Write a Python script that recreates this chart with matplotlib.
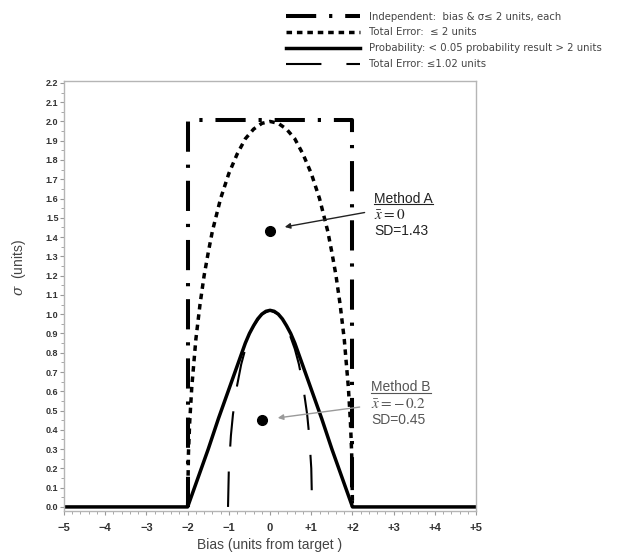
import matplotlib
matplotlib.use('Agg')
import matplotlib.pyplot as plt
from matplotlib.lines import Line2D

plt.rcParams['font.family'] = ['Liberation Sans', 'DejaVu Sans']
plt.rcParams['mathtext.fontset'] = 'stix'

# independent limits: bias and sigma <= 2
indep_bias = [-2.0, -2.0, 2.0, 2.0]
indep_sigma = [0.0, 2.01, 2.01, 0.0]

# total error <= 2 units
te2_bias = [-2.0, -1.98, -1.95, -1.9, -1.8, -1.7, -1.6, -1.5, -1.4, -1.2, -1.0, -0.8, -0.6, -0.4, -0.2, 0.0,
            0.2, 0.4, 0.6, 0.8, 1.0, 1.2, 1.4, 1.5, 1.6, 1.7, 1.8, 1.9, 1.95, 1.98, 2.0]
te2_sigma = [0.0, 0.28, 0.44, 0.62, 0.87, 1.05, 1.2, 1.32, 1.43, 1.6, 1.73, 1.83, 1.91, 1.96, 1.99, 2.0,
             1.99, 1.96, 1.91, 1.83, 1.73, 1.6, 1.43, 1.32, 1.2, 1.05, 0.87, 0.62, 0.44, 0.28, 0.0]

# probability < 0.05 that a result is > 2 units off
prob_bias = [-5.0, -2.0, -1.75, -1.5, -1.25, -1.0, -0.75, -0.6, -0.5, -0.4, -0.3, -0.2, -0.1, 0.0,
             0.1, 0.2, 0.3, 0.4, 0.5, 0.6, 0.75, 1.0, 1.25, 1.5, 1.75, 2.0, 5.0]
prob_sigma = [0.0, 0.0, 0.15, 0.30, 0.46, 0.61, 0.76, 0.85, 0.90, 0.94, 0.975, 1.0, 1.015, 1.02,
              1.015, 1.0, 0.975, 0.94, 0.90, 0.85, 0.76, 0.61, 0.46, 0.30, 0.15, 0.0, 0.0]

# total error <= 1.02 units
te1_bias = [-1.02, -1.0, -0.95, -0.9, -0.8, -0.7, -0.6, -0.4, -0.2, 0.0, 0.2, 0.4, 0.6, 0.7, 0.8, 0.9, 0.95, 1.0, 1.02]
te1_sigma = [0.0, 0.2, 0.37, 0.48, 0.63, 0.74, 0.82, 0.94, 1.0, 1.02, 1.0, 0.94, 0.82, 0.74, 0.63, 0.48, 0.37, 0.2, 0.0]

methods = ['Method A', 'Method B']
method_mean = [0.0, -0.2]
method_sd = [1.43, 0.45]
mean_labels = [r'$\bar{x}=0$', r'$\bar{x}=-\,0.2$']

xticks = [-5, -4, -3, -2, -1, 0, 1, 2, 3, 4, 5]
xtick_labels = ['\u22125', '\u22124', '\u22123', '\u22122', '\u22121', '0', '+1', '+2', '+3', '+4', '+5']

fig = plt.figure(figsize=(6.17, 5.53), dpi=100)
ax = fig.add_axes([0.1037, 0.076, 0.668, 0.7776])

ax.plot(indep_bias, indep_sigma, color='black', lw=2.9, dashes=(7.5, 3.2, 0.8, 3.2),
        label='Independent:  bias & \u03c3\u2264 2 units, each')
ax.plot(te2_bias, te2_sigma, color='black', lw=2.5, dashes=(1.6, 1.4),
        label='Total Error:  \u2264 2 units')
ax.plot(prob_bias, prob_sigma, color='black', lw=2.5,
        label='Probability: < 0.05 probability result > 2 units')
ax.plot(te1_bias, te1_sigma, color='black', lw=1.5, dashes=(17, 12),
        label='Total Error: \u22641.02 units')

ax.plot(method_mean, method_sd, 'o', color='black', ms=7, zorder=5)

text_x = [2.53, 2.46]
arrow_from = [(2.36, 1.53), (2.24, 0.52)]
arrow_to = [(0.29, 1.45), (0.12, 0.46)]
colors = ['#222222', '#555555']
arrow_colors = ['#222222', '#9a9a9a']
heads = []
for i in range(2):
    y0 = method_sd[i]
    t = ax.text(text_x[i], y0 + 0.17, methods[i], fontsize=10, color=colors[i], va='center')
    heads.append(t)
    ax.text(text_x[i], y0 + 0.085, mean_labels[i], fontsize=11, color=colors[i], va='center')
    ax.text(text_x[i], y0 + 0.0, 'SD=%.2f' % method_sd[i], fontsize=10, color=colors[i], va='center')
    ax.annotate('', xy=arrow_to[i], xytext=arrow_from[i],
                arrowprops=dict(arrowstyle='-|>', color=arrow_colors[i], lw=1.0, mutation_scale=8))

ax.set_xlim(-5, 5)
ax.set_ylim(-0.021, 2.21)
ax.set_xticks(xticks)
ax.set_xticklabels(xtick_labels)
ax.set_yticks([i / 10 for i in range(23)])
ax.set_yticklabels(['%.1f' % (i / 10) for i in range(23)])
ax.set_xticks([i / 5 - 5 for i in range(51)], minor=True)
ax.set_yticks([i / 20 for i in range(45)], minor=True)
ax.tick_params(which='both', direction='out', color='#999999')
ax.tick_params(which='major', length=3, width=0.8)
ax.tick_params(which='minor', length=2, width=0.6)
ax.tick_params(axis='x', labelsize=8, labelcolor='#333333', pad=6)
ax.tick_params(axis='y', labelsize=6.5, labelcolor='#333333', pad=1)
for lab in ax.get_xticklabels() + ax.get_yticklabels():
    lab.set_fontweight('bold')
for sp in ax.spines.values():
    sp.set_color('#b5b5b5')
    sp.set_linewidth(1.0)

ax.set_xlabel('Bias (units from target )', fontsize=10, color='#444444')
ax.xaxis.set_label_coords(0.5, -0.062)
ax.set_ylabel(r'$\mathit{\sigma}$  (units)', fontsize=10, color='#444444')
ax.yaxis.label.set_math_fontfamily('dejavuserif')
ax.yaxis.set_label_coords(-0.087, 0.567)

fig.legend(loc='upper left', bbox_to_anchor=(0.463, 0.979), frameon=False,
           prop={'family': 'DejaVu Sans', 'size': 7.3}, handlelength=7.3, handletextpad=0.9,
           labelspacing=0.58, borderpad=0, borderaxespad=0, labelcolor='#444444')

# underline the method names
fig.canvas.draw()
r = fig.canvas.get_renderer()
for t in heads:
    bb = t.get_window_extent(r).transformed(fig.transFigure.inverted())
    fig.add_artist(Line2D([bb.x0, bb.x1], [bb.y0 + 0.002, bb.y0 + 0.002],
                          color=t.get_color(), lw=0.8, transform=fig.transFigure))

fig.savefig('out.png', dpi=100)
